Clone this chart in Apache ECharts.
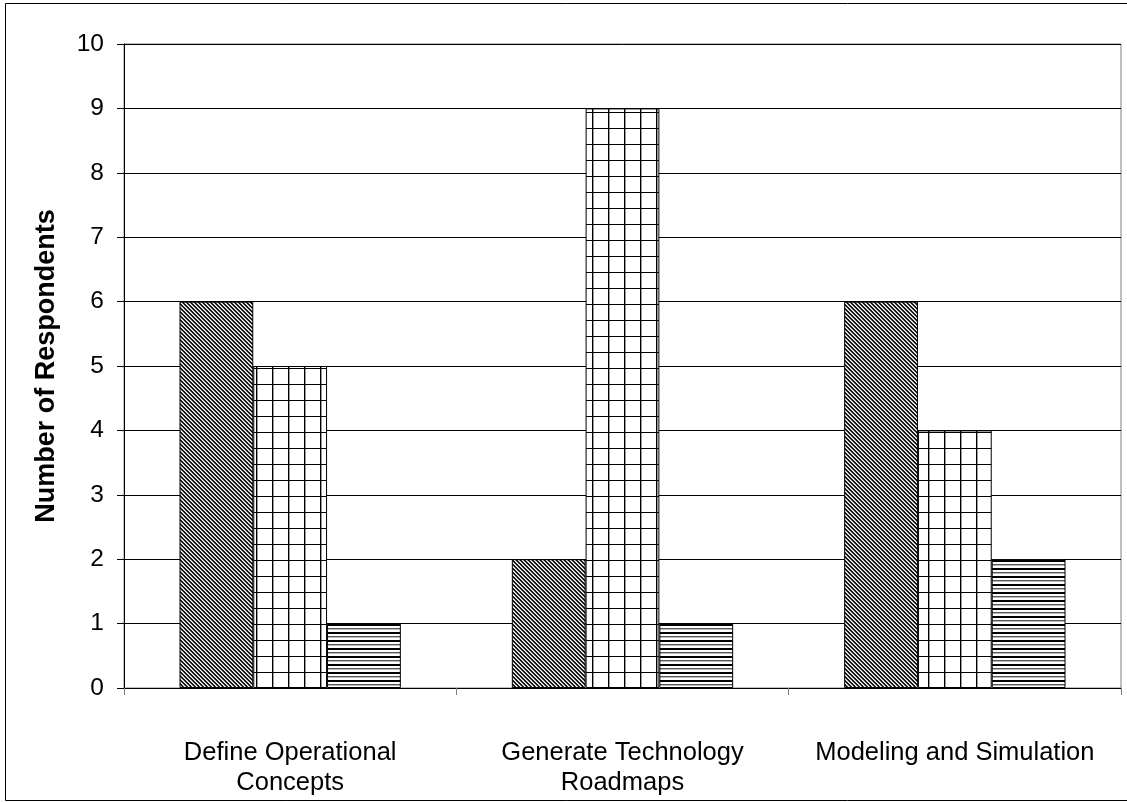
<!DOCTYPE html>
<html>
<head>
<meta charset="utf-8">
<script src="https://cdn.jsdelivr.net/npm/echarts@6/dist/echarts.min.js"></script>
<style>
  html, body { margin: 0; padding: 0; background: #fff; }
  #chartDiv { width: 1127px; height: 803px; }
</style>
</head>
<body>
<div id="chartDiv"></div>
<script>
// chart data
const categories = ['Define Operational\nConcepts', 'Generate Technology\nRoadmaps', 'Modeling and Simulation']
const seriesA = [6, 2, 6]
const seriesB = [5, 9, 4]
const seriesC = [1, 1, 2]
const yTicks = [0, 1, 2, 3, 4, 5, 6, 7, 8, 9, 10]

// hatch tiles drawn on small canvases
const makeTile = (w, h, draw) => {
  const c = document.createElement('canvas')
  c.width = w
  c.height = h
  const ctx = c.getContext('2d')
  ctx.fillStyle = '#fff'
  ctx.fillRect(0, 0, w, h)
  draw(ctx)
  return c
}

// diagonal "\" stripes
const diagTile = makeTile(4, 4, (ctx) => {
  const shades = ['#000', '#333', null, '#aaa']
  for (let y = 0; y < 4; y++) {
    for (let x = 0; x < 4; x++) {
      const d = ((x - y) % 4 + 4) % 4
      if (shades[d]) { ctx.fillStyle = shades[d]; ctx.fillRect(x, y, 1, 1) }
    }
  }
})

// square grid
const gridTile = makeTile(16, 16, (ctx) => {
  ctx.fillStyle = '#000'
  ctx.fillRect(0, 0, 1, 16)
  ctx.fillRect(0, 0, 16, 1)
  ctx.fillStyle = '#999'
  ctx.fillRect(1, 1, 1, 15)
})

// horizontal stripes
const horizTile = makeTile(8, 8, (ctx) => {
  ctx.fillStyle = '#000'
  ctx.fillRect(0, 0, 8, 2)
  ctx.fillStyle = '#555'
  ctx.fillRect(0, 4, 8, 1)
  ctx.fillStyle = '#bbb'
  ctx.fillRect(0, 5, 8, 1)
})

const barStyle = (tile) => ({
  color: { image: tile, repeat: 'repeat' },
  borderColor: '#000',
  borderWidth: 1
})

const option = {
  animation: false,
  backgroundColor: '#fff',
  textStyle: { fontFamily: 'Liberation Sans, Arial, sans-serif' },
  graphic: [
    {
      type: 'rect',
      shape: { x: 5.5, y: 3.5, width: 1130, height: 797 },
      style: { fill: 'none', stroke: '#000', lineWidth: 1 },
      silent: true
    }
  ],
  grid: {
    left: 124,
    right: 6,
    top: 44,
    bottom: 115,
    show: true,
    borderColor: '#808080',
    borderWidth: 1,
    backgroundColor: 'transparent'
  },
  xAxis: {
    type: 'category',
    data: categories,
    axisLine: { lineStyle: { color: '#000', width: 1 } },
    axisTick: { show: true, length: 7, lineStyle: { color: '#808080' } },
    axisLabel: {
      color: '#000',
      fontSize: 25.5,
      lineHeight: 30,
      margin: 50,
      interval: 0
    },
    splitLine: { show: false }
  },
  yAxis: {
    type: 'value',
    min: yTicks[0],
    max: yTicks[yTicks.length - 1],
    interval: 1,
    name: 'Number of Respondents',
    nameLocation: 'middle',
    nameGap: 64,
    nameTextStyle: { fontSize: 27, fontWeight: 'bold', color: '#000' },
    axisLine: { show: true, lineStyle: { color: '#000', width: 1 } },
    axisTick: { show: true, length: 7, lineStyle: { color: '#000' } },
    axisLabel: { color: '#000', fontSize: 24.5, margin: 20 },
    splitLine: { show: true, lineStyle: { color: '#000', width: 1 } }
  },
  series: [
    {
      name: 'A',
      type: 'bar',
      data: seriesA,
      barGap: '0%',
      barCategoryGap: '33.4%',
      itemStyle: barStyle(diagTile)
    },
    {
      name: 'B',
      type: 'bar',
      data: seriesB,
      itemStyle: barStyle(gridTile)
    },
    {
      name: 'C',
      type: 'bar',
      data: seriesC,
      itemStyle: barStyle(horizTile)
    }
  ]
}

const chart = echarts.init(document.getElementById('chartDiv'))
chart.setOption(option)
</script>
</body>
</html>
